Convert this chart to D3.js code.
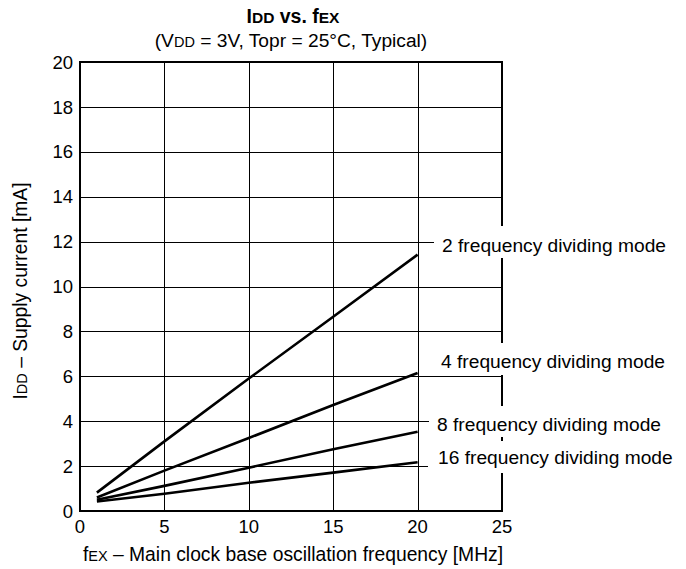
<!DOCTYPE html>
<html>
<head>
<meta charset="utf-8">
<script src="https://cdn.jsdelivr.net/npm/d3@7"></script>
<style>
  body { margin: 0; background: #fff; }
  svg { display: block; font-family: "Liberation Sans", Arial, sans-serif; }
</style>
</head>
<body>
<svg id="chart" width="686" height="569"></svg>
<script>
// data
const freq = [1, 5, 10, 15, 20];
const mode2 = [0.82, 3.1, 5.9, 8.65, 11.42];
const mode4 = [0.6, 1.8, 3.25, 4.72, 6.15];
const mode8 = [0.5, 1.12, 1.93, 2.75, 3.53];
const mode16 = [0.42, 0.77, 1.26, 1.71, 2.17];
const seriesNames = ["2 frequency dividing mode", "4 frequency dividing mode",
                     "8 frequency dividing mode", "16 frequency dividing mode"];
const xTicks = [0, 5, 10, 15, 20, 25];
const yTicks = [0, 2, 4, 6, 8, 10, 12, 14, 16, 18, 20];

const series = [mode2, mode4, mode8, mode16];

// label placement (y centre in px, left of text in px)
const labelPos = [
  { y: 245, x: 442, boxTop: 226, boxBottom: 258, boxLeft: 434 },
  { y: 361, x: 441, boxTop: 343, boxBottom: 375, boxLeft: 434 },
  { y: 424, x: 437, boxTop: 406, boxBottom: 437, boxLeft: 429 },
  { y: 457, x: 438, boxTop: 441, boxBottom: 473, boxLeft: 428 }
];

const svg = d3.select("#chart");
const plotL = 80, plotR = 502, plotT = 62, plotB = 511;

const x = d3.scaleLinear().domain([0, 25]).range([plotL, plotR]);
const y = d3.scaleLinear().domain([0, 20]).range([plotB, plotT]);

// grid
svg.append("g")
  .attr("transform", "translate(0," + plotB + ")")
  .call(d3.axisBottom(x).tickValues(xTicks.slice(1, -1)).tickSize(-(plotB - plotT)).tickFormat(""))
  .call(g => g.select(".domain").remove())
  .selectAll("line").attr("stroke", "#000").attr("stroke-width", 1).attr("shape-rendering", "crispEdges");

svg.append("g")
  .attr("transform", "translate(" + plotL + ",0)")
  .call(d3.axisLeft(y).tickValues(yTicks.slice(1, -1)).tickSize(-(plotR - plotL)).tickFormat(""))
  .call(g => g.select(".domain").remove())
  .selectAll("line").attr("stroke", "#000").attr("stroke-width", 1).attr("shape-rendering", "crispEdges");

// frame
svg.append("rect")
  .attr("x", plotL).attr("y", plotT)
  .attr("width", plotR - plotL).attr("height", plotB - plotT)
  .attr("fill", "none").attr("stroke", "#000").attr("stroke-width", 2);

// tick labels
svg.append("g").selectAll("text")
  .data(xTicks).enter().append("text")
  .attr("x", d => x(d)).attr("y", 533)
  .attr("text-anchor", "middle").attr("font-size", 18.5)
  .text(d => d);

svg.append("g").selectAll("text")
  .data(yTicks).enter().append("text")
  .attr("x", 73).attr("y", d => y(d)).attr("dy", "0.36em")
  .attr("text-anchor", "end").attr("font-size", 18.5)
  .text(d => d);

// series labels with white boxes
const labels = svg.append("g").selectAll("g")
  .data(seriesNames).enter().append("g");

labels.append("rect")
  .attr("x", (d, i) => labelPos[i].boxLeft)
  .attr("y", (d, i) => labelPos[i].boxTop)
  .attr("width", 250)
  .attr("height", (d, i) => labelPos[i].boxBottom - labelPos[i].boxTop)
  .attr("fill", "#fff");

labels.append("text")
  .attr("x", (d, i) => labelPos[i].x)
  .attr("y", (d, i) => labelPos[i].y)
  .attr("dy", "0.36em")
  .attr("font-size", 19.2)
  .text(d => d);

// lines
const line = d3.line()
  .x((d, i) => x(freq[i]))
  .y(d => y(d));

svg.append("g").selectAll("path")
  .data(series).enter().append("path")
  .attr("d", line)
  .attr("fill", "none")
  .attr("stroke", "#000")
  .attr("stroke-width", 2.6);

// titles
const title = svg.append("text")
  .attr("x", 293).attr("y", 23)
  .attr("text-anchor", "middle").attr("font-size", 19.5).attr("font-weight", "bold");
title.append("tspan").text("I");
title.append("tspan").attr("font-size", 15.5).text("DD");
title.append("tspan").text(" vs. f");
title.append("tspan").attr("font-size", 15.5).text("EX");

const sub = svg.append("text")
  .attr("x", 291).attr("y", 47)
  .attr("text-anchor", "middle").attr("font-size", 19.2);
sub.append("tspan").text("(V");
sub.append("tspan").attr("font-size", 14.5).text("DD");
sub.append("tspan").text(" = 3V, Topr = 25°C, Typical)");

const xt = svg.append("text")
  .attr("x", 293).attr("y", 561)
  .attr("text-anchor", "middle").attr("font-size", 19.3);
xt.append("tspan").text("f");
xt.append("tspan").attr("font-size", 14.5).text("EX");
xt.append("tspan").text(" – Main clock base oscillation frequency [MHz]");

const yt = svg.append("text")
  .attr("transform", "translate(27,291) rotate(-90)")
  .attr("text-anchor", "middle").attr("font-size", 19.3);
yt.append("tspan").text("I");
yt.append("tspan").attr("font-size", 14.5).text("DD");
yt.append("tspan").text(" – Supply current [mA]");
</script>
</body>
</html>
